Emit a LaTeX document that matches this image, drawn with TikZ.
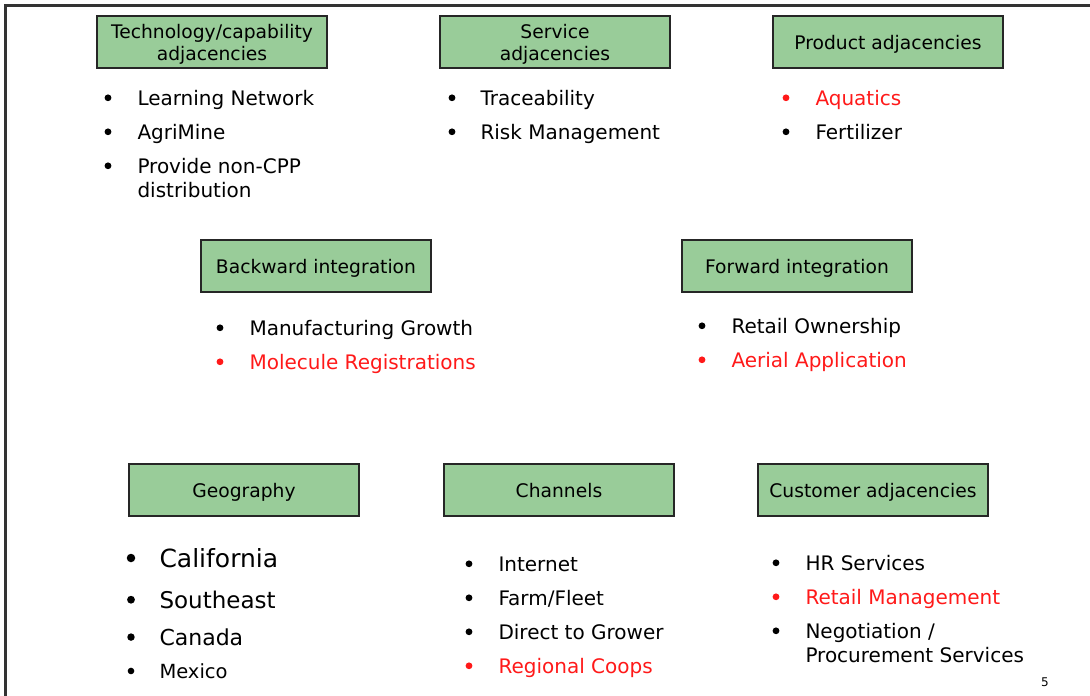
\documentclass[tikz,border=0pt]{standalone}
\usepackage{fontspec}
\setmainfont{DejaVu Sans}
\usepackage{tikz}
\definecolor{boxgreen}{RGB}{153,204,153}
\definecolor{itemred}{RGB}{255,25,25}

\begin{document}
\begin{tikzpicture}[x=1pt,y=-1pt,line width=1.0pt,
  hd/.style={draw=black!85,fill=boxgreen,line width=1.6pt,minimum width=230pt,minimum height=52pt,align=center,inner sep=2pt,text depth=0pt,font=\fontsize{18.7}{22}\selectfont},
  it/.style={anchor=base west,inner sep=0pt},
  bl/.style={circle,inner sep=0pt}]
\useasboundingbox (0,0) rectangle (1090,696);
\draw[line width=3pt,black!80] (5,696) -- (5,5) -- (1090,5);
% header boxes
\foreach \x/\y/\t [count=\i] in {212/42/{Technology/capability\\adjacencies},555/42/{Service\\adjacencies},888/42/Product adjacencies,
  316/266/Backward integration,797/266/Forward integration,
  244/490/Geography,559/490/Channels,873/490/Customer adjacencies}
  \node[hd] (h\i) at (\x,\y) {\t};
% bullet lists
\foreach \bx/\tx/\y/\c/\s/\t [count=\i] in {108/137/105/black/20/Learning Network,108/137/139/black/20/AgriMine,108/137/173/black/20/{Provide non-CPP\\distribution},
  452/480/105/black/20/Traceability,452/480/139/black/20/Risk Management,
  786/815/105/itemred/20/Aquatics,786/815/139/black/20/Fertilizer,
  220/249/335/black/20/Manufacturing Growth,220/249/369/itemred/20/Molecule Registrations,
  702/731/333/black/20/Retail Ownership,702/731/367/itemred/20/Aerial Application,
  131/159/567/black/25/California,131/159/608/black/23/Southeast,131/159/645/black/22/Canada,131/159/678/black/19.5/Mexico,
  469/498/571/black/20/Internet,469/498/605/black/20/{Farm/Fleet},469/498/639/black/20/Direct to Grower,469/498/673/itemred/20/Regional Coops,
  776/805/570/black/20/HR Services,776/805/604/itemred/20/Retail Management,776/805/638/black/20/{Negotiation /\\Procurement Services}}
  {\node[bl,fill=\c,minimum size=0.34*\s] (b\i) at (\bx,\y-0.36*\s) {};
   \node[it,text=\c,font=\fontsize{\s}{24}\selectfont] (t\i) at (\tx,\y) {\begin{tabular}[t]{@{}l@{}}\t\end{tabular}};}
\node[font=\fontsize{12}{14}\selectfont] (pg) at (1045,682) {5};
\end{tikzpicture}
\end{document}
